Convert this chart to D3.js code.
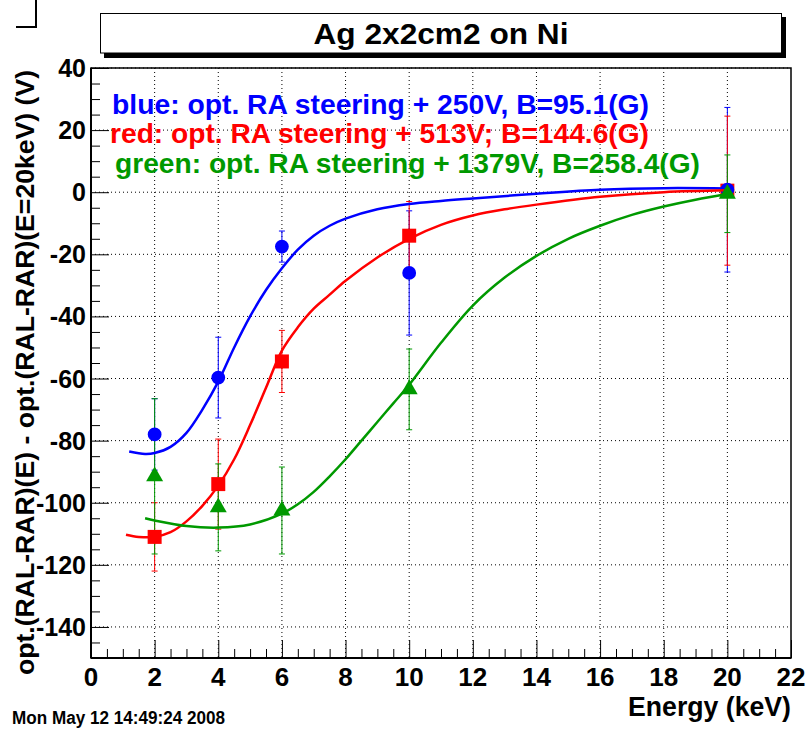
<!DOCTYPE html>
<html>
<head>
<meta charset="utf-8">
<script src="https://cdn.jsdelivr.net/npm/d3@7"></script>
<style>
  html, body { margin: 0; padding: 0; background: #fff; }
  svg { display: block; }
  text { font-family: "Liberation Sans", Arial, Helvetica, sans-serif; font-weight: bold; }
</style>
</head>
<body>
<svg id="chart" width="806" height="732"></svg>
<script>
// ---------- data ----------
const titleText = "Ag 2x2cm2 on Ni";
const xTitle = "Energy (keV)";
const yTitle = "opt.(RAL-RAR)(E) - opt.(RAL-RAR)(E=20keV) (V)";
const dateText = "Mon May 12 14:49:24 2008";
const xTicks = [0, 2, 4, 6, 8, 10, 12, 14, 16, 18, 20, 22];
const yTicks = [40, 20, 0, -20, -40, -60, -80, -100, -120, -140];

const energies = [2, 4, 6, 10, 20];
const blueVals = [-78, -59.7, -17.5, -26, 0.8];
const blueErr  = [11.5, 13, 5, 20, 26.5];
const redVals  = [-111, -94, -54.5, -14, 0.5];
const redErr   = [11, 14.5, 10, 11, 24];
const greenVals = [-91.5, -101.5, -102.5, -63.5, -0.5];
const greenErr  = [25, 14, 14, 13, 12.5];

const blueFitX = [1.2, 1.7, 2, 2.5, 3, 3.5, 4, 4.5, 5, 5.5, 6, 6.5, 7, 7.5, 8, 9, 10, 11, 12, 14, 16, 18, 20];
const blueFitY = [-83.5, -84.3, -84, -82, -77.5, -70, -61, -50, -40, -31.5, -24.5, -18.5, -14, -10.8, -8.5, -5.5, -3.8, -2.8, -2, -0.5, 0.8, 1.3, 1.2];
const redFitX = [1.1, 1.5, 2, 2.5, 3, 3.5, 4, 4.5, 5, 5.5, 6, 6.5, 7, 7.5, 8, 9, 10, 11, 12, 13, 14, 16, 18, 20];
const redFitY = [-110.3, -111, -111, -109.5, -106, -101, -94.5, -86, -75, -63, -51, -43.5, -37.5, -33, -28.5, -21, -15, -10.5, -7.5, -5.5, -4, -1.5, 0, 0.6];
const greenFitX = [1.7, 2, 3, 4, 5, 6, 6.5, 7, 7.5, 8, 8.5, 9, 9.5, 10, 11, 12, 13, 14, 15, 16, 17, 18, 19, 20];
const greenFitY = [-105, -105.7, -107.5, -108, -107, -103.5, -100.5, -96.5, -91.5, -86, -80, -74, -68, -62, -48.5, -36.5, -27.5, -20.5, -15, -10.8, -7.3, -4.6, -2.4, -0.6];

const legendLines = [
  "blue: opt. RA steering + 250V, B=95.1(G)",
  "red: opt. RA steering + 513V; B=144.6(G)",
  "green: opt. RA steering + 1379V, B=258.4(G)"
];

// ---------- layout ----------
const colors = { blue: "#0000ff", red: "#ff0000", green: "#009900" };
const X0 = 91, X1 = 791, Y0 = 68, Y1 = 658;
const x = d3.scaleLinear().domain([0, 22]).range([X0, X1]);
const y = d3.scaleLinear().domain([-150, 40]).range([Y1, Y0]);

const svg = d3.select("#chart");
svg.append("rect").attr("width", 806).attr("height", 732).attr("fill", "#fff");

// top-left corner mark
svg.append("path").attr("d", "M36,0 L36,27 L16,27").attr("fill", "none").attr("stroke", "#000").attr("stroke-width", 2);

// title box with shadow
svg.append("rect").attr("x", 104).attr("y", 17).attr("width", 682).attr("height", 41).attr("fill", "#000");
svg.append("rect").attr("x", 100.5).attr("y", 13.5).attr("width", 681).attr("height", 39.5)
  .attr("fill", "#fff").attr("stroke", "#000").attr("stroke-width", 1);
svg.append("text").attr("x", 441).attr("y", 44).attr("text-anchor", "middle")
  .attr("font-size", 29).attr("textLength", 255).attr("lengthAdjust", "spacingAndGlyphs")
  .text(titleText);

// grid
const grid = svg.append("g").attr("stroke", "#000").attr("stroke-width", 1).attr("stroke-dasharray", "1,3");
xTicks.filter(t => t > 0 && t < 22).forEach(t => {
  grid.append("line").attr("x1", x(t)).attr("x2", x(t)).attr("y1", Y0).attr("y2", Y1);
});
yTicks.forEach(t => {
  grid.append("line").attr("x1", X0).attr("x2", X1).attr("y1", y(t)).attr("y2", y(t));
});

// axes
const xAxis = d3.axisTop(x).tickValues(d3.range(0, 22.01, 0.5)).tickSize(0).tickFormat("");
const gx = svg.append("g").attr("transform", `translate(0,${Y1})`).call(xAxis);
gx.select(".domain").remove();
gx.selectAll(".tick line").attr("stroke", "#000").attr("stroke-width", 1)
  .attr("y2", d => (Math.abs(d % 2) < 1e-9 ? -18 : -9));

const yAxis = d3.axisRight(y).tickValues(d3.range(-150, 40.01, 5)).tickSize(0).tickFormat("");
const gy = svg.append("g").attr("transform", `translate(${X0},0)`).call(yAxis);
gy.select(".domain").remove();
gy.selectAll(".tick line").attr("stroke", "#000").attr("stroke-width", 1)
  .attr("x2", d => (Math.abs(d % 20) < 1e-9 ? 18 : 9));

// tick labels
svg.append("g").selectAll("text").data(xTicks).join("text")
  .attr("x", d => x(d)).attr("y", 686).attr("text-anchor", "middle")
  .attr("font-size", 26).text(d => d);
svg.append("g").selectAll("text").data(yTicks).join("text")
  .attr("x", 86).attr("y", d => y(d)).attr("dy", "0.36em").attr("text-anchor", "end")
  .attr("font-size", 25).text(d => d);

// frame
svg.append("rect").attr("x", X0).attr("y", Y0).attr("width", X1 - X0).attr("height", Y1 - Y0)
  .attr("fill", "none").attr("stroke", "#000").attr("stroke-width", 1.5);
svg.append("line").attr("x1", X0).attr("x2", X0).attr("y1", Y0).attr("y2", Y1).attr("stroke", "#000").attr("stroke-width", 2);
svg.append("line").attr("x1", X0).attr("x2", X1).attr("y1", Y1).attr("y2", Y1).attr("stroke", "#000").attr("stroke-width", 2);

// axis titles
svg.append("text").attr("x", 791).attr("y", 716).attr("text-anchor", "end")
  .attr("font-size", 27).attr("textLength", 163).attr("lengthAdjust", "spacingAndGlyphs").text(xTitle);
svg.append("text").attr("transform", "translate(34,70) rotate(-90)").attr("text-anchor", "end")
  .attr("font-size", 26).attr("textLength", 605).attr("lengthAdjust", "spacingAndGlyphs").text(yTitle);

// date
svg.append("text").attr("x", 12).attr("y", 724).attr("font-size", 18)
  .attr("textLength", 213).attr("lengthAdjust", "spacingAndGlyphs").text(dateText);

// legend text
const legendX = [112, 110, 115], legendY = [114, 143, 173], legendW = [537, 539, 585];
const legendC = [colors.blue, colors.red, colors.green];
legendLines.forEach((t, i) => {
  svg.append("text").attr("x", legendX[i]).attr("y", legendY[i]).attr("fill", legendC[i])
    .attr("font-size", 27).attr("textLength", legendW[i]).attr("lengthAdjust", "spacingAndGlyphs").text(t);
});

// series
const series = [
  { vals: blueVals, err: blueErr, color: colors.blue, sym: d3.symbolCircle, size: 150, fx: blueFitX, fy: blueFitY },
  { vals: redVals, err: redErr, color: colors.red, sym: d3.symbolSquare, size: 196, fx: redFitX, fy: redFitY },
  { vals: greenVals, err: greenErr, color: colors.green, sym: d3.symbolTriangle, size: 125, fx: greenFitX, fy: greenFitY }
];
const line = d3.line().x(d => x(d[0])).y(d => y(d[1])).curve(d3.curveCatmullRom.alpha(0.5));

function drawErrors(s) {
  const g = svg.append("g").attr("stroke", s.color).attr("stroke-width", 1);
  energies.forEach((e, i) => {
    const cx = x(e), top = y(s.vals[i] + s.err[i]), bot = y(s.vals[i] - s.err[i]);
    g.append("line").attr("x1", cx).attr("x2", cx).attr("y1", top).attr("y2", bot);
    g.append("line").attr("x1", cx - 3).attr("x2", cx + 3).attr("y1", top).attr("y2", top);
    g.append("line").attr("x1", cx - 3).attr("x2", cx + 3).attr("y1", bot).attr("y2", bot);
  });
}
function drawMarkers(s) {
  svg.append("g").selectAll("path").data(energies).join("path")
    .attr("transform", (e, i) => `translate(${x(e)},${y(s.vals[i])})`)
    .attr("d", d3.symbol().type(s.sym).size(s.size)).attr("fill", s.color);
}
function drawFit(s) {
  svg.append("path").datum(s.fx.map((v, i) => [v, s.fy[i]]))
    .attr("d", line).attr("fill", "none").attr("stroke", s.color).attr("stroke-width", 2.5);
}

series.forEach(drawErrors);
drawMarkers(series[1]);
drawMarkers(series[0]);
series.forEach(drawFit);
drawMarkers(series[2]);
</script>
</body>
</html>
